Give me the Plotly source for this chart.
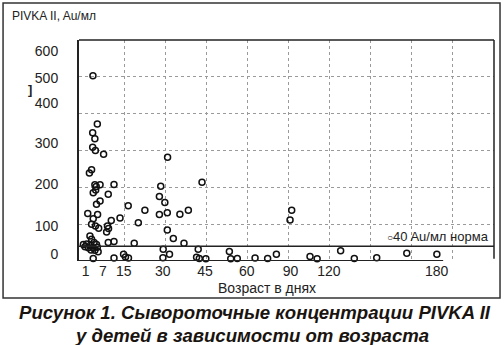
import plotly.graph_objects as go

# Age of each child (days, on the chart's linear grid scale: 15 per grid step)
age_days = [
    3.3, 4.9, 3.2, 4.0, 3.2, 4.2, 7.2, 2.8, 2.0, 4.0, 5.9, 4.5, 11.0, 4.3, 3.4,
    8.9, 5.9, 4.6, 16.2, 22.3, 1.4, 5.0, 3.4, 13.2, 10.0, 2.8, 4.2, 5.4, 19.9,
    8.6, 9.0, 8.3,
    2.2, 2.8, -0.2, 1.0, 2.4, 3.7, 4.6, 1.6, 3.2, 4.9, 2.6, 4.0, 5.2, 0.4,
    8.9, 11.0, 18.4, 3.4, 11.0, 14.5, 15.2, 16.3,
    30.6, 43.2, 28.1, 27.6, 29.6, 27.6, 30.5, 35.1, 38.2, 30.5, 32.7, 36.6,
    29.0, 31.3, 28.9, 41.8, 41.2, 42.2, 44.6, 53.2, 53.7, 56.1,
    62.6, 67.2, 70.4, 76.0, 75.4, 82.7, 85.3, 93.9, 98.9, 107.1, 118.1, 129.1,
]
# Serum PIVKA II concentration, Au/ml
pivka = [
    503, 372, 348, 332, 309, 300, 290, 248, 239, 207, 207, 202, 208, 193, 185,
    181, 163, 154, 150, 138, 129, 126, 115, 117, 110, 100, 95, 89, 104,
    95, 88, 79,
    68, 59, 45, 46, 43, 50, 45, 36, 36, 37, 30, 29, 25, 39,
    50, 53, 48, 7, 8, 18, 11, 8,
    282, 214, 203, 175, 159, 126, 131, 127, 138, 84, 61, 48,
    32, 18, 9, 32, 10, 7, 6, 26, 6, 7,
    8, 7, 18, 138, 111, 12, 6, 28, 7, 9, 21, 18,
]

x_tick_labels = ["1", "7", "15", "30", "45", "60", "90", "120", "180"]
y_tick_labels = ["0", "100", "200", "300", "400", "500", "600"]
norm_level = 40

# where the hand-set labels sit along each axis
x_tick_pos = [0.6, 6.9, 14.6, 28.8, 44.3, 59.6, 75.6, 89.6, 129.0]
y_tick_pos = [18, 95, 208, 319, 430, 496, 571]

X_MIN, X_MAX = -1.8, 150
FONT = "Liberation Sans"
INK = "#222222"
GRID = "#9a9a9a"

fig = go.Figure()
fig.add_trace(go.Scatter(
    x=age_days, y=pivka, mode="markers",
    marker=dict(symbol="circle-open", size=6, color="#111111",
                line=dict(width=1.5, color="#111111")),
    showlegend=False, cliponaxis=False,
))

shapes = [
    # norm threshold
    dict(type="line", xref="paper", yref="y", x0=0, x1=1,
         y0=norm_level, y1=norm_level, line=dict(color=INK, width=1.5)),
    # bottom axis
    dict(type="line", xref="x", yref="y", x0=X_MIN, x1=131.4, y0=0, y1=0,
         line=dict(color=INK, width=2)),
    # top and right borders of the plot
    dict(type="line", xref="paper", yref="paper", x0=0, x1=1, y0=1, y1=1,
         line=dict(color=INK, width=1.5)),
    dict(type="line", xref="paper", yref="paper", x0=1, x1=1, y0=0.01, y1=1,
         line=dict(color=INK, width=1.5)),
    # outer frame around the figure
    dict(type="rect", xref="paper", yref="paper", x0=-0.183, x1=1.0145,
         y0=-0.167, y1=1.167, line=dict(color="#333333", width=1.5)),
]

annotations = [
    dict(text="PIVKA II, Au/мл", xref="paper", yref="paper", x=-0.166, y=1.109,
         xanchor="left", yanchor="middle", showarrow=False,
         font=dict(family=FONT, size=12, color=INK)),
    dict(text="<b>]</b>", xref="paper", yref="paper", x=-0.118, y=0.778,
         xanchor="center", yanchor="middle", showarrow=False,
         font=dict(family=FONT, size=13, color=INK)),
    dict(text="Возраст в днях", xref="paper", yref="paper", x=0.453, y=-0.122,
         xanchor="center", yanchor="middle", showarrow=False,
         font=dict(family=FONT, size=14, color=INK)),
    dict(text="<span style='font-size:10px'>○</span>%d Au/мл норма" % norm_level,
         xref="paper", yref="paper", x=0.992, y=0.109,
         xanchor="right", yanchor="middle", showarrow=False,
         font=dict(family=FONT, size=13, color=INK)),
    dict(text="<b><i>Рисунок 1. Сывороточные концентрации PIVKA II</i></b>",
         xref="paper", yref="paper", x=0.424, y=-0.231,
         xanchor="center", yanchor="middle", showarrow=False,
         font=dict(family=FONT, size=18.6, color="#1a1410")),
    dict(text="<b><i>у детей в зависимости от возраста</i></b>",
         xref="paper", yref="paper", x=0.417, y=-0.335,
         xanchor="center", yanchor="middle", showarrow=False,
         font=dict(family=FONT, size=18.6, color="#1a1410")),
]

fig.update_layout(
    width=504, height=345,
    margin=dict(l=79, r=10, t=40, b=84),
    paper_bgcolor="white", plot_bgcolor="white",
    showlegend=False,
    shapes=shapes, annotations=annotations,
    xaxis=dict(
        range=[X_MIN, X_MAX], tickmode="array", tickvals=x_tick_pos,
        ticktext=x_tick_labels, showgrid=False, zeroline=False, showline=False,
        ticks="", tickfont=dict(family=FONT, size=14, color=INK),
        minor=dict(tickmode="array", tickvals=list(range(15, 150, 15)),
                   showgrid=True, griddash="dot", gridcolor=GRID, gridwidth=1),
    ),
    yaxis=dict(
        range=[0, 600], tickmode="array", tickvals=y_tick_pos,
        ticktext=y_tick_labels, showgrid=False, zeroline=False,
        showline=True, linecolor=INK, linewidth=2, ticks="",
        ticklabelstandoff=16,
        tickfont=dict(family=FONT, size=14, color=INK),
        minor=dict(tickmode="array", tickvals=[100, 200, 300, 400, 500],
                   showgrid=True, griddash="dot", gridcolor=GRID, gridwidth=1),
    ),
)

fig.write_html("out.html")
